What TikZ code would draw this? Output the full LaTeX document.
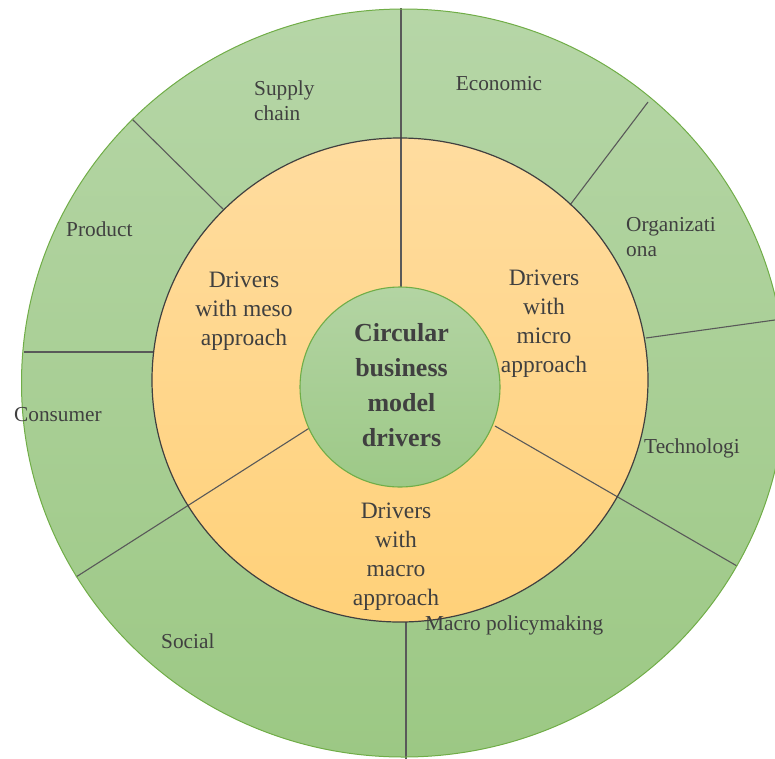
\documentclass[tikz,border=0pt]{standalone}
\usepackage{fontspec}
\setmainfont{Liberation Serif}
\definecolor{outertop}{HTML}{B6D6A7}
\definecolor{outerbot}{HTML}{9CC884}
\definecolor{midtop}{HTML}{FFDC9F}
\definecolor{midbot}{HTML}{FFD179}
\definecolor{coretop}{HTML}{B3D4A3}
\definecolor{corebot}{HTML}{9DC987}
\definecolor{greenedge}{HTML}{70AD47}
\definecolor{darkedge}{HTML}{404040}
\definecolor{divline}{HTML}{595959}
\definecolor{txt}{HTML}{404040}
\begin{document}
\begin{tikzpicture}[x=1pt,y=-1pt,
  divider/.style={draw=divline, line width=1.1pt},
  outerlabel/.style={font=\fontsize{21.3}{25}\selectfont, text=txt, inner sep=0pt, anchor=base west, align=left},
  midlabel/.style={font=\fontsize{23.5}{29}\selectfont, text=txt, inner sep=0pt, anchor=base, align=center},
  corelabel/.style={font=\fontsize{26}{35}\selectfont\bfseries, text=txt, inner sep=0pt, anchor=base, align=center},
]
\useasboundingbox (0,0) rectangle (775,758);
\clip (0,0) rectangle (775,758);

% ring fills
\shade[top color=outertop, bottom color=outerbot] (403.5,383) ellipse [x radius=382pt, y radius=374pt];
\shade[top color=midtop, bottom color=midbot] (400,380) ellipse [x radius=248pt, y radius=242pt];

% divider end points
\coordinate (topin)  at (401,292);
\coordinate (topout) at (401,8);
\coordinate (ulin)   at (223,209);
\coordinate (ulout)  at (132,119);
\coordinate (lin)    at (153,352);
\coordinate (lout)   at (24,352);
\coordinate (llin)   at (311,427);
\coordinate (llout)  at (76,577);
\coordinate (botin)  at (406,622);
\coordinate (botout) at (406,762);
\coordinate (lrin)   at (495,426);
\coordinate (lrout)  at (737,566);
\coordinate (rin)    at (646,338);
\coordinate (rout)   at (782,319);
\coordinate (urin)   at (570,205);
\coordinate (urout)  at (648,102);

% dividers
\draw[divider, line width=1.4pt] (topin) -- (topout);
\draw[divider] (ulin) -- (ulout);
\draw[divider, line width=1.8pt] (lin) -- (lout);
\draw[divider] (llin) -- (llout);
\draw[divider, line width=1.4pt] (botin) -- (botout);
\draw[divider] (lrin) -- (lrout);
\draw[divider] (rin) -- (rout);
\draw[divider] (urin) -- (urout);

% ring outlines
\draw[greenedge, line width=1pt] (403.5,383) ellipse [x radius=382pt, y radius=374pt];
\draw[darkedge, line width=1.2pt] (400,380) ellipse [x radius=248pt, y radius=242pt];

% core circle
\shade[top color=coretop, bottom color=corebot] (400,387) circle [radius=100pt];
\draw[greenedge, line width=1.1pt] (400,387) circle [radius=100pt];

% outer ring labels (multi-line nodes sit on the baseline of their last line)
\node[outerlabel] (supply)  at (254,120) {Supply\\chain};
\node[outerlabel, anchor=base] (econ) at (499,90) {Economic};
\node[outerlabel] (org)     at (626,256) {Organizati\\ona};
\node[outerlabel] (product) at (66,236)  {Product};
\node[outerlabel] (consum)  at (14,421)  {Consumer};
\node[outerlabel] (tech)    at (644,453) {Technologi};
\node[outerlabel] (policy)  at (425,630) {Macro policymaking};
\node[outerlabel] (social)  at (161,648) {Social};

% middle ring labels
\node[midlabel] (meso)  at (244,345) {Drivers\\with meso\\approach};
\node[midlabel] (micro) at (544,372) {Drivers\\with\\micro\\approach};
\node[midlabel] (macro) at (396,605) {Drivers\\with\\macro\\approach};

% centre label
\node[corelabel] (core) at (401.5,446) {Circular\\business\\model\\drivers};
\end{tikzpicture}
\end{document}
